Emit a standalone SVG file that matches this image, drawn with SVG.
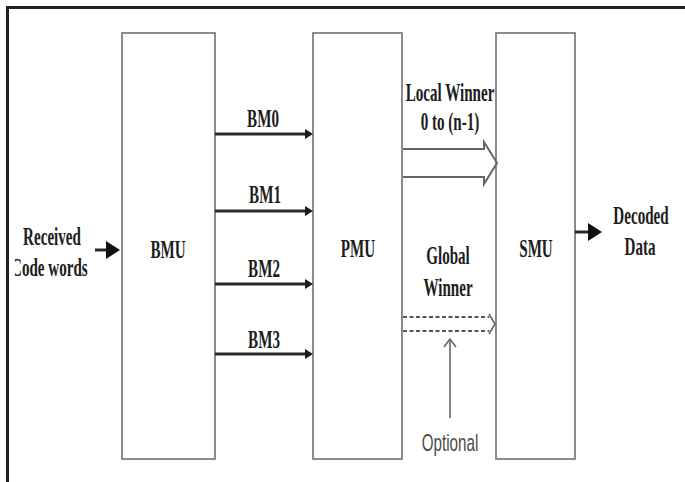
<svg xmlns="http://www.w3.org/2000/svg" width="685" height="482" viewBox="0 0 685 482">
<style>
.t{font-family:"Liberation Serif","Times New Roman",serif;font-weight:bold;font-size:26px;fill:#1c1c1c;text-anchor:middle}
.s{font-family:"Liberation Sans",Arial,sans-serif;font-size:23px;fill:#4a4a4a;text-anchor:middle}
.box{fill:#fff;stroke:#808080;stroke-width:1.8}
.ar{stroke:#2a2a2a;stroke-width:3;fill:none}
.hol{stroke:#666;stroke-width:2;fill:none}
.dash{stroke:#555;stroke-width:2;fill:none;stroke-dasharray:4 2.5}
.thin{stroke:#666;stroke-width:1.6;fill:none}
</style>
<defs>
<marker id="ah" markerUnits="userSpaceOnUse" markerWidth="10" markerHeight="12" refX="2" refY="6" orient="auto"><path d="M0,1 L8,6 L0,11 z" fill="#1c1c1c"/></marker>
<marker id="ahb" markerUnits="userSpaceOnUse" markerWidth="16" markerHeight="20" refX="2" refY="9" orient="auto"><path d="M0,0 L14,9 L0,18 z" fill="#111"/></marker>
<marker id="open" markerUnits="userSpaceOnUse" markerWidth="16" markerHeight="16" refX="9" refY="7" orient="auto"><path d="M1,1 L9,7 L1,13" fill="none" stroke="#666" stroke-width="1.6"/></marker>
<clipPath id="cw"><rect x="15" y="250" width="100" height="40"/></clipPath>
</defs>
<rect width="685" height="482" fill="#fff"/>
<g id="frame"><path d="M7.5,482 V7.5 H685" fill="none" stroke="#222" stroke-width="3"/></g>
<g id="bmu"><rect class="box" x="122" y="33" width="93" height="426"/><text class="t" transform="translate(168,258) scale(0.58,1)">BMU</text></g>
<g id="pmu"><rect class="box" x="313" y="33" width="89" height="426"/><text class="t" transform="translate(358,257) scale(0.58,1)">PMU</text></g>
<g id="smu"><rect class="box" x="496" y="33" width="79" height="426"/><text class="t" transform="translate(536,257) scale(0.58,1)">SMU</text></g>
<g id="input"><text class="t" transform="translate(52,245) scale(0.58,1)">Received</text><g clip-path="url(#cw)"><text class="t" style="text-anchor:start" transform="translate(11,276) scale(0.58,1)">Code words</text></g></g>
<g id="output"><text class="t" transform="translate(641,224) scale(0.58,1)">Decoded</text><text class="t" transform="translate(640,255) scale(0.58,1)">Data</text></g>
<g id="connectors">
<line class="ar" x1="95" y1="250" x2="108" y2="250" marker-end="url(#ahb)"/>
<line class="ar" x1="575" y1="232" x2="590" y2="232" marker-end="url(#ahb)"/>
<line class="ar" x1="215" y1="134" x2="307" y2="134" marker-end="url(#ah)"/>
<line class="ar" x1="215" y1="211" x2="307" y2="211" marker-end="url(#ah)"/>
<line class="ar" x1="215" y1="284" x2="307" y2="284" marker-end="url(#ah)"/>
<line class="ar" x1="215" y1="354" x2="307" y2="354" marker-end="url(#ah)"/>
<path class="hol" d="M403,149 H484 V142 L497,163 L484,184 V177 H403"/>
<path class="dash" d="M403,317 H489 M403,331 H489"/>
<path class="thin" d="M489,314 L495,324 L489,334"/>
<line class="thin" x1="450" y1="418" x2="450" y2="339" marker-end="url(#open)"/>
</g>
<g id="labels">
<text class="t" transform="translate(263,127) scale(0.58,1)">BM0</text>
<text class="t" transform="translate(265,203) scale(0.58,1)">BM1</text>
<text class="t" transform="translate(264,277) scale(0.58,1)">BM2</text>
<text class="t" transform="translate(264,348) scale(0.58,1)">BM3</text>
<text class="t" transform="translate(450,101) scale(0.58,1)">Local Winner</text>
<text class="t" transform="translate(450,130) scale(0.58,1)">0 to (n-1)</text>
<text class="t" transform="translate(448,264) scale(0.58,1)">Global</text>
<text class="t" transform="translate(448,296) scale(0.58,1)">Winner</text>
<text class="s" transform="translate(450,451) scale(0.66,1)">Optional</text>
</g>
</svg>
